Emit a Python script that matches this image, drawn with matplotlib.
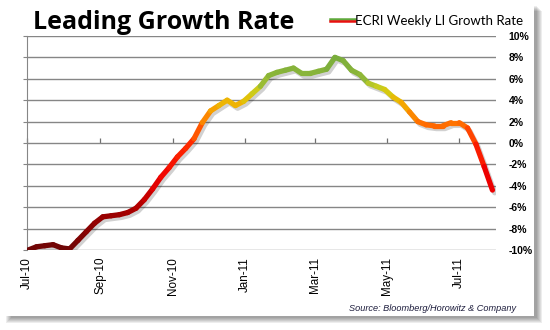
import numpy as np
import pandas as pd
import matplotlib
matplotlib.use("Agg")
import matplotlib.pyplot as plt
import matplotlib.dates as mdates
import matplotlib.patheffects as pe
from matplotlib.collections import LineCollection
from matplotlib.colors import LinearSegmentedColormap, Normalize
from matplotlib.lines import Line2D
from matplotlib.patches import Rectangle
from matplotlib.legend_handler import HandlerBase

# weekly ECRI leading index growth rate, %
start_date = "2010-07-02"
growth = [-10.0, -9.7, -9.6, -9.5, -9.8, -9.9, -9.1, -8.3, -7.5, -6.9,
          -6.8, -6.7, -6.5, -6.1, -5.3, -4.3, -3.2, -2.3, -1.3, -0.5,
          0.4, 1.9, 3.0, 3.5, 4.0, 3.5, 3.9, 4.6, 5.3, 6.3,
          6.6, 6.8, 7.0, 6.5, 6.5, 6.7, 6.9, 8.0, 7.7, 6.8,
          6.4, 5.6, 5.3, 5.0, 4.3, 3.8, 2.9, 2.0, 1.7, 1.6,
          1.6, 1.9, 1.9, 1.4, -0.1, -2.2, -4.4]
dates = pd.date_range(start_date, periods=len(growth), freq="7D")

title = "Leading Growth Rate"
series_name = "ECRI Weekly LI Growth Rate"
source = "Source: Bloomberg/Horowitz & Company"

# colour as a function of the value (-10% .. 10%)
grad = LinearSegmentedColormap.from_list("lead", [
    (0.00, "#6e0606"), (0.15, "#960000"), (0.25, "#c40000"),
    (0.34, "#f00000"), (0.50, "#ff2c00"), (0.60, "#ff7600"),
    (0.675, "#f4ac00"), (0.725, "#dcc80c"), (0.76, "#c4cc22"),
    (0.80, "#90b838"), (0.90, "#78ac3c"), (1.00, "#62a040")])
norm = Normalize(-10, 10)

W, H = 550, 330
fig = plt.figure(figsize=(W / 100, H / 100), dpi=100, facecolor="white")

# card with drop shadow
for i in range(6):
    fig.add_artist(Rectangle(((6 + i) / W, (H - 323 + i) / H),
                             (534 + 8 - 2 * i - 6) / W, (316 - 4) / H,
                             transform=fig.transFigure, facecolor="#000000",
                             alpha=0.07, edgecolor="none", zorder=0))
fig.add_artist(Rectangle((0, (H - 316) / H), 534 / W, 316 / H,
                         transform=fig.transFigure, facecolor="white",
                         edgecolor="none", zorder=0.5))

ax = fig.add_axes([27 / W, 1 - 250 / H, (496 - 27) / W, (250 - 36) / H])
ax.set_zorder(2)
ax.set_facecolor("none")

# soft shadow under the line
ax.plot(dates, growth, lw=3.7, color="k", solid_capstyle="round",
        solid_joinstyle="round", zorder=2,
        path_effects=[pe.SimpleLineShadow(offset=(1.6, -2.0),
                                          shadow_color="#000000", alpha=0.18)])

x = mdates.date2num(dates)
y = np.array(growth)
pts = np.column_stack([x, y]).reshape(-1, 1, 2)
segs = np.concatenate([pts[:-1], pts[1:]], axis=1)
mids = (y[:-1] + y[1:]) / 2
lc = LineCollection(segs, colors=grad(norm(mids)), linewidths=3.8,
                    capstyle="round", joinstyle="round", zorder=3)
ax.add_collection(lc)

ax.set_ylim(-10, 10)
ax.set_yticks(np.arange(-10, 11, 2))
ax.yaxis.set_major_formatter(plt.FuncFormatter(lambda v, p: f"{v:.0f}%"))
ax.set_xlim(pd.Timestamp("2010-07-01"), pd.Timestamp("2011-08-01"))
ax.xaxis.set_major_locator(mdates.MonthLocator(bymonth=[1, 3, 5, 7, 9, 11]))
ax.xaxis.set_major_formatter(mdates.DateFormatter("%b-%y"))

grid_c = "#868686"
ax.grid(axis="y", color=grid_c, lw=1.0)
ax.set_axisbelow(True)
for s in ["top", "right", "bottom"]:
    ax.spines[s].set_visible(False)
ax.spines["left"].set_color(grid_c)
ax.tick_params(axis="y", left=True, right=False, labelleft=False,
               labelright=True, direction="out", length=3, color=grid_c,
               pad=6)
for lab in ax.get_yticklabels():
    lab.set_fontfamily("Liberation Sans")
    lab.set_fontweight("bold")
    lab.set_fontsize(7.5)
ax.tick_params(axis="x", length=0, pad=5, labelrotation=90)
for lab in ax.get_xticklabels():
    lab.set_fontfamily("Liberation Sans")
    lab.set_fontsize(8.4)

# small tick marks on the 0% line, pointing up
sec = ax.secondary_xaxis(0.5)
sec.xaxis.set_major_locator(mdates.MonthLocator(bymonth=[1, 3, 5, 7, 9, 11]))
sec.xaxis.set_major_formatter(plt.NullFormatter())
sec.tick_params(axis="x", which="both", top=True, bottom=False,
                direction="out", length=3.5, color="#707070",
                labelbottom=False, labeltop=False, width=0.9)
for s in sec.spines.values():
    s.set_visible(False)


class GradHandle(HandlerBase):
    def create_artists(self, legend, orig, xd, yd, w, h, fs, trans):
        top = Line2D([xd, xd + w], [yd + h / 2 + 1.2] * 2, color="#5ea83a",
                     lw=1.8, transform=trans)
        bot = Line2D([xd, xd + w], [yd + h / 2 - 0.6] * 2, color="#e81010",
                     lw=1.8, transform=trans)
        return [top, bot]


handle = Line2D([], [])
fig.legend([handle], [series_name], handler_map={Line2D: GradHandle()},
           loc="upper left", bbox_to_anchor=(318 / W, 1 - 3 / H),
           frameon=False, handlelength=1.9, handletextpad=0.0,
           prop={"family": "Lato", "size": 9.5})

fig.text(33 / W, 1 - 29 / H, title, fontsize=18, fontweight="bold",
         family="Open Sans", ha="left", va="baseline")
fig.text(516 / W, 1 - 311 / H, source, fontsize=6.6, style="italic",
         family="Liberation Sans", color="#1c1c3c", ha="right", va="baseline")

fig.savefig("out.png", dpi=100, facecolor="white")
